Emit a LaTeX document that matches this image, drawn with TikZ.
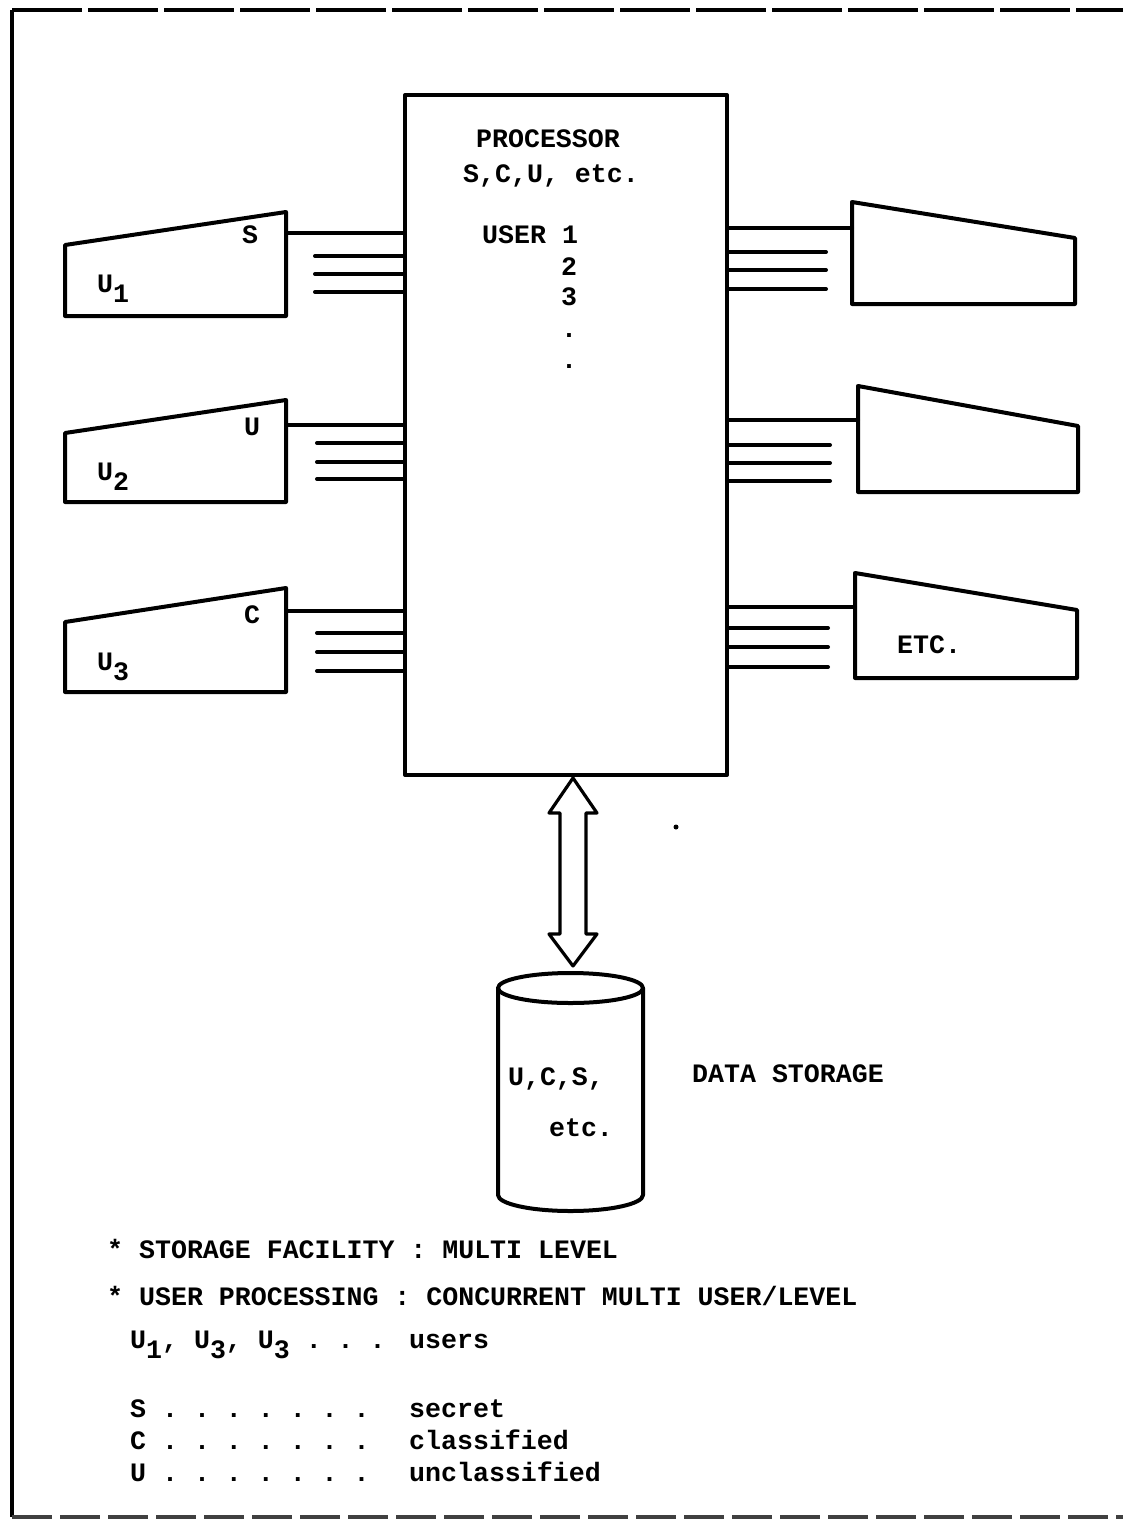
\documentclass[tikz,border=0pt]{standalone}
\usepackage{fontspec}
\setmonofont{Liberation Mono}
\usetikzlibrary{calc}
\newcommand\lowr[1]{\raisebox{-10pt}{#1}}
\begin{document}
\begin{tikzpicture}[x=1pt,y=-1pt,
  every node/.style={font=\ttfamily\bfseries\fontsize{26.6}{30}\selectfont, inner sep=0pt},
  thk/.style={line width=4pt, line join=round},
  wire/.style={line width=4pt, line cap=round},
  frame/.style={line width=3.8pt},
  lbl/.style={anchor=base},
  lblw/.style={anchor=base west}]
\useasboundingbox (0,0) rectangle (1123,1523);
% outer frame
\draw[frame, dash pattern=on 70pt off 6pt] (12,10) -- (1123,10);
\draw[frame] (12,10) -- (12,1517);
\draw[frame, dash pattern=on 40pt off 8pt, black!75] (12,1517) -- (1123,1517);

% processor
\node[draw, thk, minimum width=322pt, minimum height=680pt] (proc) at (566,435) {};
\node[lbl] (ptitle) at (548,147) {PROCESSOR};
\node[lbl] (plev) at (551,182) {S,C,U, etc.};
\node[lblw] (pu1) at (482,243) {USER 1};
\node[lbl] (pu2) at (569,275) {2};
\node[lbl] (pu3) at (569,305) {3};
\node[lbl] (pd1) at (569,337) {.};
\node[lbl] (pd2) at (569,368) {.};

% left terminals
\draw[thk] (65,245) -- (286,212) -- (286,316) -- (65,316) -- cycle;
\coordinate (t1) at (286,233);
\node[lbl] (t1s) at (250,243) {S};
\node[lblw] (t1u) at (97,292) {U\lowr{1}};
\draw[thk] (65,433) -- (286,400) -- (286,502) -- (65,502) -- cycle;
\coordinate (t2) at (286,425);
\node[lbl] (t2s) at (252,435) {U};
\node[lblw] (t2u) at (97,480) {U\lowr{2}};
\draw[thk] (65,622) -- (286,588) -- (286,692) -- (65,692) -- cycle;
\coordinate (t3) at (286,611);
\node[lbl] (t3s) at (252,623) {C};
\node[lblw] (t3u) at (97,670) {U\lowr{3}};

% left connectors
\draw[wire] (t1) -- (t1 -| proc.west);
\coordinate (l11) at (315,256); \coordinate (l12) at (315,274); \coordinate (l13) at (315,292);
\foreach \c in {l11,l12,l13} \draw[wire] (\c) -- (\c -| proc.west);
\draw[wire] (t2) -- (t2 -| proc.west);
\coordinate (l21) at (317,443); \coordinate (l22) at (317,462); \coordinate (l23) at (317,479);
\foreach \c in {l21,l22,l23} \draw[wire] (\c) -- (\c -| proc.west);
\draw[wire] (t3) -- (t3 -| proc.west);
\coordinate (l31) at (317,633); \coordinate (l32) at (317,652); \coordinate (l33) at (317,671);
\foreach \c in {l31,l32,l33} \draw[wire] (\c) -- (\c -| proc.west);

% right terminals
\draw[thk] (852,202) -- (1075,238) -- (1075,304) -- (852,304) -- cycle;
\coordinate (r1) at (852,228);
\draw[thk] (858,386) -- (1078,426) -- (1078,492) -- (858,492) -- cycle;
\coordinate (r2) at (858,420);
\draw[thk] (855,573) -- (1077,610) -- (1077,678) -- (855,678) -- cycle;
\coordinate (r3) at (855,607);
\node[lblw] (etc) at (897,653) {ETC.};

% right connectors
\draw[wire] (proc.east |- r1) -- (r1);
\coordinate (q11) at (826,252); \coordinate (q12) at (826,270); \coordinate (q13) at (826,289);
\foreach \c in {q11,q12,q13} \draw[wire] (proc.east |- \c) -- (\c);
\draw[wire] (proc.east |- r2) -- (r2);
\coordinate (q21) at (830,445); \coordinate (q22) at (830,463); \coordinate (q23) at (830,481);
\foreach \c in {q21,q22,q23} \draw[wire] (proc.east |- \c) -- (\c);
\draw[wire] (proc.east |- r3) -- (r3);
\coordinate (q31) at (828,628); \coordinate (q32) at (828,647); \coordinate (q33) at (828,667);
\foreach \c in {q31,q32,q33} \draw[wire] (proc.east |- \c) -- (\c);

% storage cylinder
\coordinate (cyltop) at (570.5,973);
\draw[thk, fill=white] (498,988) -- (498,1195) arc[start angle=180, end angle=0, x radius=72.5, y radius=16] -- (643,988);
\draw[thk] (570.5,988) ellipse [x radius=72.5, y radius=15];
\node[lbl] (cyl1) at (556,1085) {U,C,S,};
\node[lbl] (cyl2) at (581,1136) {etc.};
\node[lblw] (dstor) at (692,1082) {DATA STORAGE};

% double arrow between processor and storage
\coordinate (aT) at (573,778);
\coordinate (aB) at (573,966);
\draw[line width=3.2pt, line join=round, fill=white]
  (aT) -- ($(aT)+(24,35)$) -- ($(aT)+(13,35)$) -- ($(aB)+(13,-32)$) -- ($(aB)+(24,-32)$)
  -- (aB) -- ($(aB)+(-24,-32)$) -- ($(aB)+(-13,-32)$) -- ($(aT)+(-13,35)$) -- ($(aT)+(-24,35)$) -- cycle;

% stray dot
\fill (676,827) circle (2.5pt);

% legend
\node[lblw] (lg1) at (107,1258) {* STORAGE FACILITY : MULTI LEVEL};
\node[lblw] (lg2) at (107,1305) {* USER PROCESSING : CONCURRENT MULTI USER/LEVEL};
\node[lblw] (lg3) at (130,1348) {U\lowr{1}, U\lowr{3}, U\lowr{3} . . .};
\node[lblw] (lg3b) at (409,1348) {users};
\node[lblw] (lg4) at (130,1417) {S . . . . . . .};
\node[lblw] (lg4b) at (409,1417) {secret};
\node[lblw] (lg5) at (130,1449) {C . . . . . . .};
\node[lblw] (lg5b) at (409,1449) {classified};
\node[lblw] (lg6) at (130,1481) {U . . . . . . .};
\node[lblw] (lg6b) at (409,1481) {unclassified};
\end{tikzpicture}
\end{document}
